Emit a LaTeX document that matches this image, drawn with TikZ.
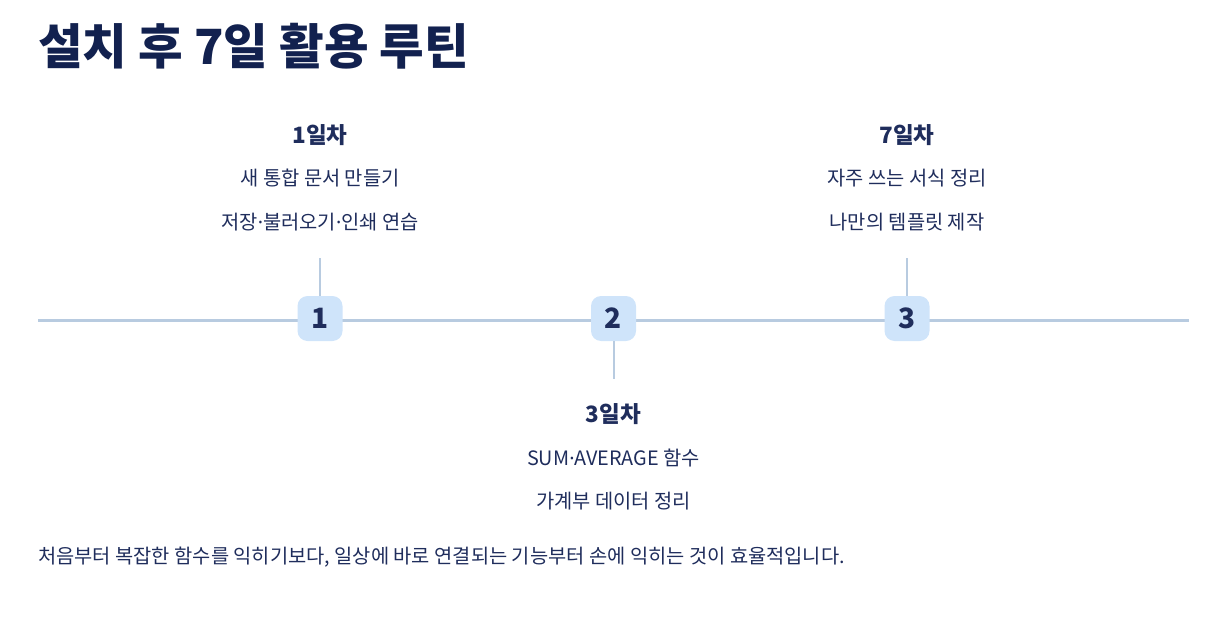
\documentclass[tikz,border=0pt]{standalone}
\usepackage{fontspec}
\setmainfont{Noto Sans CJK KR}
\newfontfamily\latinsans{Noto Sans}
\usepackage{tikz}
\usetikzlibrary{positioning}
\definecolor{tnavy}{HTML}{12214F}
\definecolor{bnavy}{HTML}{1F2D5C}
\definecolor{lline}{HTML}{B8CBE0}
\definecolor{bfill}{HTML}{CFE4FA}
\newcommand{\mdot}{{\latinsans ·}}
\tikzset{
  ttl/.style={font=\fontsize{48.5}{52}\selectfont\bfseries,text=tnavy,anchor=west,inner sep=0pt},
  dayhd/.style={font=\fontsize{22.5}{26}\selectfont\bfseries,text=bnavy,inner sep=0pt},
  item/.style={font=\fontsize{19.8}{22}\selectfont,text=bnavy,inner sep=0pt},
  badge/.style={fill=bfill,rounded corners=10pt,minimum width=45pt,minimum height=45pt,
                font=\fontsize{28}{30}\selectfont\bfseries,text=bnavy,inner sep=0pt},
  tick/.style={lline,line width=2pt},
}
\begin{document}
\begin{tikzpicture}[x=1pt,y=-1pt]
\useasboundingbox (0,0) rectangle (1223,642);
% title
\node[ttl] (title) at (38,46) {설치 후 7일 활용 루틴};
% timeline
\coordinate (tl0) at (38,320);
\coordinate (tl1) at (1189,320);
\draw[lline,line width=3pt] (tl0) -- (tl1);
% badges
\node[badge] (b1) at (320,318.5) {1};
\node[badge] (b2) at (613.5,318.5) {2};
\node[badge] (b3) at (907,318.5) {3};
\coordinate (k1) at (320,258);
\coordinate (k2) at (613.5,379);
\coordinate (k3) at (907,258);
\draw[tick] (k1) -- (b1.north);
\draw[tick] (b2.south) -- (k2);
\draw[tick] (k3) -- (b3.north);
% day 1
\node[dayhd] (d1) at (320,135) {1일차};
\node[item] (d1a) at (320,178) {새 통합 문서 만들기};
\node[item] (d1b) at (320,222) {저장\mdot 불러오기\mdot 인쇄 연습};
% day 3
\node[dayhd] (d3) at (613.5,414) {3일차};
\node[item] (d3a) at (613.5,458) {SUM\mdot AVERAGE 함수};
\node[item] (d3b) at (613.5,501) {가계부 데이터 정리};
% day 7
\node[dayhd] (d7) at (907,135) {7일차};
\node[item] (d7a) at (907,178) {자주 쓰는 서식 정리};
\node[item] (d7b) at (907,222) {나만의 템플릿 제작};
% footer
\node[item,anchor=west] (note) at (38,557) {처음부터 복잡한 함수를 익히기보다, 일상에 바로 연결되는 기능부터 손에 익히는 것이 효율적입니다.};
\end{tikzpicture}
\end{document}
